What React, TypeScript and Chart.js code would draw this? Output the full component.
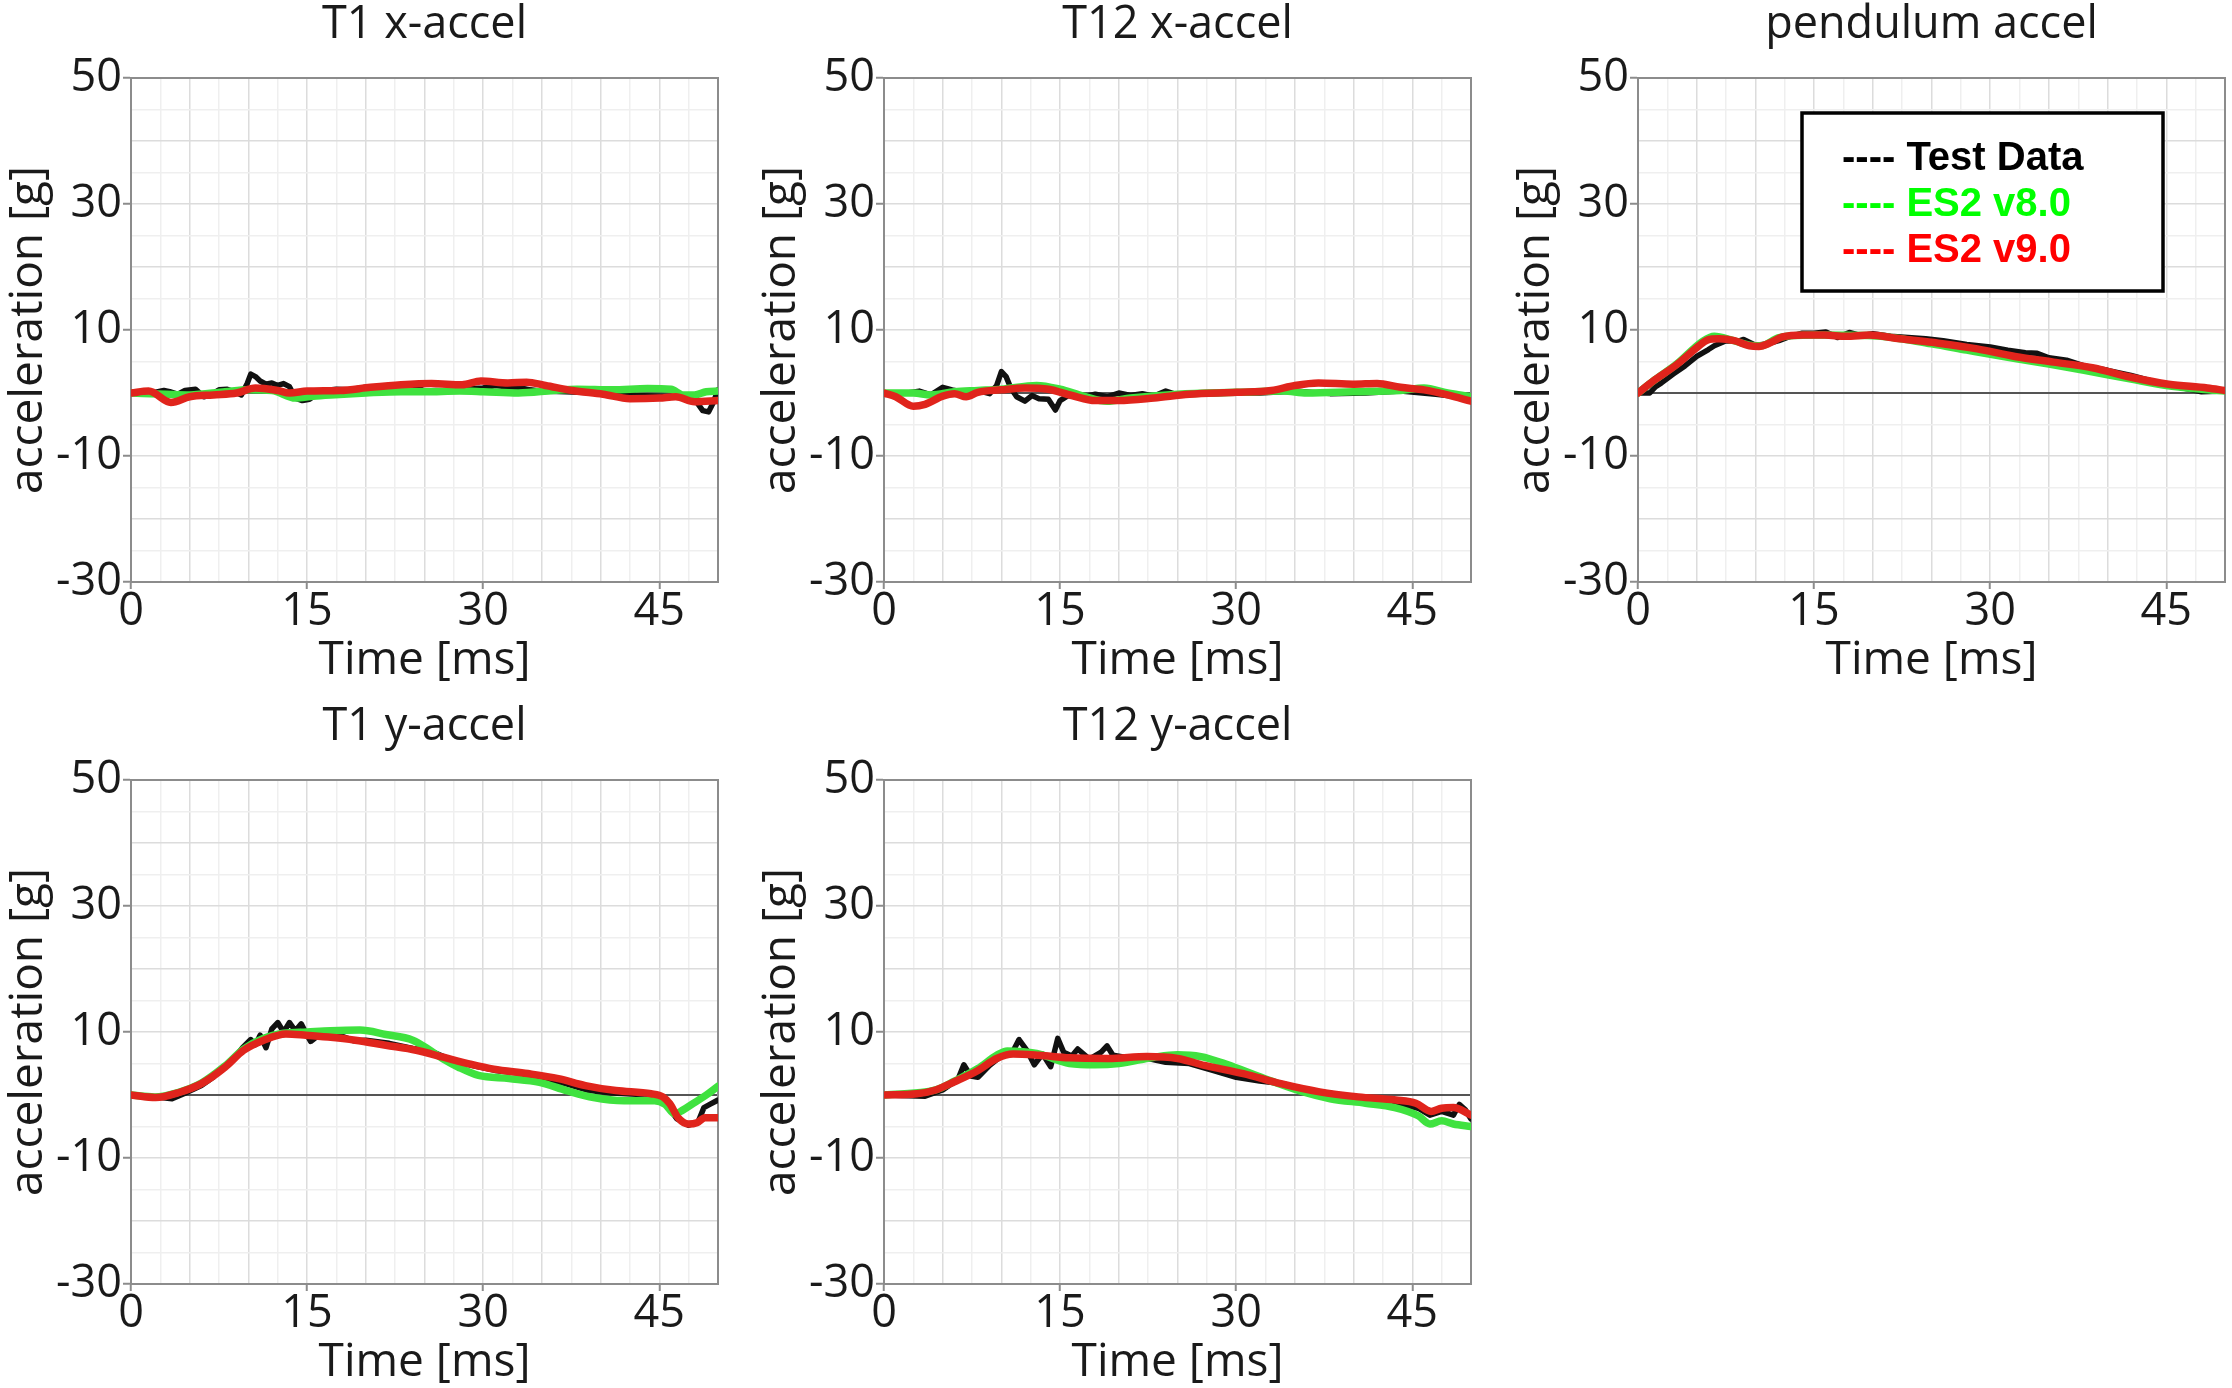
import React, { useEffect, useRef } from 'react';
import { Chart, registerables } from 'chart.js';

Chart.register(...registerables);

// ---------- tick labels / series names ----------
const X_TICK_LABELS = [0, 15, 30, 45];
const Y_TICK_LABELS = [50, 30, 10, -10, -30];
const SERIES_NAMES = ['Test Data', 'ES2 v8.0', 'ES2 v9.0'];
const PANEL_TITLES = ['T1 x-accel', 'T12 x-accel', 'pendulum accel', 'T1 y-accel', 'T12 y-accel'];

// ---------- T1 x-accel ----------
const T1X_V9_T = [0, 1.5, 3.4, 5, 7, 9, 10.6, 12.5, 13.5, 15, 17.8, 20.4, 23, 25.6, 28.2, 29.8, 32.1, 33.7, 35.3, 37.6, 40.2, 42.5, 45, 46.4, 48, 50];
const T1X_V9_G = [0, 0.3, -1.5, -0.6, -0.3, 0, 0.8, 0.4, 0, 0.3, 0.4, 0.9, 1.3, 1.5, 1.3, 1.9, 1.6, 1.7, 1.2, 0.4, -0.2, -0.9, -0.8, -0.6, -1.4, -1.2];
const T1X_V8_T = [0, 3, 5, 8, 10, 12, 14, 15.5, 17, 20, 23, 25, 28, 30, 33, 36, 38, 41, 44, 46, 47, 48, 49, 50];
const T1X_V8_G = [0, -0.2, -0.3, 0.2, 0.5, 0.4, -0.8, -0.5, -0.3, 0, 0.2, 0.2, 0.3, 0.2, 0, 0.4, 0.6, 0.5, 0.7, 0.6, -0.3, -0.3, 0.2, 0.3];
const T1X_TEST_T = [0, 1, 2, 2.8, 3.3, 4, 4.6, 5.5, 6.2, 6.8, 7.5, 8.2, 8.8, 9.4, 9.9, 10.2, 10.6, 11, 11.5, 12, 12.5, 13, 13.5, 14, 14.6, 15.2, 15.8, 16.5, 17.5, 18.5, 20, 22, 24, 25, 26, 27, 28, 30, 31, 32, 33, 34, 35, 37, 40, 43, 45, 46.5, 47.5, 48.2, 48.7, 49.2, 49.6, 50];
const T1X_TEST_G = [0, 0, 0.1, 0.4, 0.2, -0.2, 0.4, 0.6, -0.6, -0.3, 0.5, 0.6, 0.2, -0.3, 1.5, 3.0, 2.6, 1.9, 1.4, 1.6, 1.2, 1.5, 1.0, -0.8, -1.2, -1.0, -0.2, 0.4, 0.6, 0.5, 0.9, 1.1, 1.3, 0.3, 0.4, 0.3, 0.6, 0.8, 1.2, 1.0, 0.9, 0.5, 0.3, 0.2, 0, -0.4, -0.5, -0.6, -0.8, -1.5, -2.8, -3.0, -1.5, 0.5];

// ---------- T12 x-accel ----------
const T12X_V9_T = [0, 1, 2.5, 3.5, 5, 6, 7, 8, 10, 12, 14, 16, 18, 20, 23, 26, 30, 33, 35, 37, 40, 42, 44, 46, 48, 50];
const T12X_V9_G = [0, -0.6, -2.1, -1.8, -0.5, -0.1, -0.6, 0.1, 0.5, 0.8, 0.6, -0.4, -1.2, -1.2, -0.8, -0.2, 0.1, 0.4, 1.2, 1.6, 1.4, 1.5, 0.9, 0.5, -0.3, -1.3];
const T12X_V8_T = [0, 2.5, 4, 6, 8, 10, 13, 15, 17, 19, 21, 25, 30, 34, 36, 40, 44, 46, 48, 50];
const T12X_V8_G = [0, 0, -0.3, 0.2, 0.4, 0.6, 1.2, 0.6, -0.5, -1.3, -0.8, -0.2, 0.1, 0.3, 0, 0.2, 0.4, 0.8, 0, -0.6];
const T12X_TEST_T = [0, 2, 3, 4, 5, 5.8, 6.5, 7, 8, 9, 9.6, 10, 10.4, 10.8, 11.3, 12, 12.6, 13.2, 14, 14.6, 15, 15.6, 16.3, 17, 18, 19, 20, 21, 22, 23, 24, 25, 26, 28, 30, 32, 35, 36.5, 38, 41, 44, 47, 49, 50];
const T12X_TEST_G = [0, 0, 0.3, -0.3, 0.9, 0.5, 0.2, -0.6, 0.4, -0.1, 1.2, 3.4, 2.6, 0.8, -0.6, -1.3, -0.4, -0.9, -1.0, -2.7, -1.2, -0.5, -0.2, -0.6, -0.2, -0.6, 0, -0.4, -0.1, -0.5, 0.3, -0.3, 0, -0.1, 0, 0, 0.3, 0.1, -0.1, 0, 0.3, -0.2, -0.6, -1.0];

// ---------- pendulum accel ----------
const PEND_V9_T = [0, 1.3, 3.3, 5.2, 5.9, 6.9, 8.2, 9.5, 10.3, 11.3, 12.3, 14.1, 15.9, 17.7, 19.7, 22.3, 25.6, 28.9, 32.1, 35.4, 38.7, 42, 45.2, 48.5, 50];
const PEND_V9_G = [0, 1.9, 4.5, 7.5, 8.4, 8.6, 8.3, 7.5, 7.4, 8.0, 8.9, 9.2, 9.2, 9.0, 9.2, 8.6, 7.9, 7.0, 5.8, 4.9, 4.0, 2.5, 1.4, 0.8, 0.4];
const PEND_V8_T = [0, 1.3, 3.3, 5.5, 6.5, 8, 9.5, 10.5, 12, 15, 20, 25, 28, 32, 35, 38, 42, 45, 48, 50];
const PEND_V8_G = [0, 1.9, 4.6, 8.2, 9.0, 8.4, 7.6, 7.5, 8.8, 9.2, 9.1, 7.8, 6.8, 5.5, 4.6, 3.6, 2.2, 1.2, 0.6, 0.3];
const PEND_TEST_T = [0, 1, 1.5, 2, 3, 4, 5, 6, 6.5, 7.5, 8.5, 9, 10, 11, 12, 13, 14, 15, 16, 17, 18, 19, 20, 21.5, 23, 24.5, 26, 28, 30, 31.5, 33, 34, 35, 36.5, 38, 40, 42, 45, 47, 48, 50];
const PEND_TEST_G = [0, 0, 1.0, 1.6, 3.0, 4.3, 5.8, 6.9, 7.5, 8.3, 8.2, 8.5, 7.6, 7.8, 8.3, 9.0, 9.5, 9.5, 9.7, 8.8, 9.6, 9.1, 9.4, 9.0, 8.8, 8.6, 8.3, 7.7, 7.3, 6.8, 6.4, 6.3, 5.6, 5.2, 4.3, 3.6, 2.8, 1.3, 0.6, 0.2, 0.3];

// ---------- T1 y-accel ----------
const T1Y_V9_T = [0, 2.1, 4.1, 6, 8, 9.6, 11.3, 13.2, 14.9, 16.8, 19.1, 21.7, 24.3, 26.6, 28.9, 30.9, 33.8, 36.4, 38.7, 41.3, 44.3, 45.3, 45.9, 46.6, 47.5, 48.2, 48.9, 50];
const T1Y_V9_G = [0, -0.4, 0.4, 1.8, 4.4, 7.1, 8.7, 9.7, 9.5, 9.2, 8.7, 7.9, 7.1, 6.0, 4.9, 4.1, 3.4, 2.6, 1.5, 0.7, 0.2, -0.3, -1.4, -3.6, -4.6, -4.4, -3.6, -3.6];
const T1Y_V8_T = [0, 2, 4, 6, 8, 9.6, 11.3, 13, 15, 17, 19.5, 21.7, 24, 25.3, 26.6, 27.9, 29.6, 32.2, 34.8, 37.1, 39.4, 42, 44.6, 45.5, 46.3, 47, 48, 49, 50];
const T1Y_V8_G = [0, -0.3, 0.4, 1.9, 4.6, 7.3, 9.0, 9.8, 10.0, 10.2, 10.3, 9.6, 8.7, 7.3, 5.7, 4.4, 3.1, 2.6, 2.0, 0.7, -0.4, -0.9, -0.9, -1.5, -3.0, -2.4, -1.2, 0, 1.4];
const T1Y_TEST_T = [0, 2, 3.5, 4.5, 6, 7, 7.5, 8.5, 9.5, 10.2, 10.6, 11, 11.5, 12, 12.5, 13, 13.5, 14, 14.5, 15, 15.3, 16, 17, 18, 19, 20, 22, 24, 25.5, 27, 29, 31, 33, 35, 37, 39, 41, 43, 44.5, 45.5, 46.5, 47.5, 48.3, 48.8, 49.3, 50];
const T1Y_TEST_G = [0, -0.3, -0.6, 0.2, 1.5, 2.8, 3.8, 5.2, 7.5, 8.8, 8.0, 9.5, 7.5, 10.5, 11.5, 10.0, 11.5, 10.2, 11.3, 9.5, 8.5, 9.5, 9.6, 9.3, 8.6, 8.7, 8.2, 7.4, 7.0, 5.8, 4.7, 3.9, 3.5, 2.7, 1.8, 0.7, 0.3, 0.1, 0.2, -1.2, -3.8, -4.8, -4.3, -2.0, -1.5, -0.8];

// ---------- T12 y-accel ----------
const T12Y_V9_T = [0, 2.8, 4.4, 6, 8, 9.6, 11, 13.2, 15.8, 19.1, 22.4, 25, 27.3, 30.6, 33.8, 37.1, 40.4, 43.6, 45.3, 46.6, 47.5, 48.5, 50];
const T12Y_V9_G = [0, 0.2, 0.8, 2.1, 3.9, 5.8, 6.5, 6.3, 5.9, 5.8, 6.1, 5.8, 4.7, 3.4, 1.8, 0.5, -0.3, -0.8, -1.3, -2.6, -2.1, -2.0, -3.2];
const T12Y_V8_T = [0, 4.4, 6, 8, 9.6, 10.5, 13, 15.8, 18, 20, 23, 25, 27, 29, 31, 33, 35.5, 38, 41, 43.5, 45.5, 46.5, 47.5, 48.5, 50];
const T12Y_V8_G = [0, 0.8, 2.2, 4.2, 6.3, 7.0, 6.6, 5.0, 4.8, 5.0, 6.0, 6.4, 6.1, 5.0, 3.6, 2.2, 0.6, -0.6, -1.3, -2.0, -3.3, -4.6, -4.1, -4.6, -5.0];
const T12Y_TEST_T = [0, 3.5, 5, 6.3, 6.8, 7.4, 8, 9, 10, 11, 11.5, 12.2, 12.8, 13.5, 14.2, 14.8, 15.3, 16, 16.5, 17.5, 18.5, 19, 19.5, 20.5, 22, 24, 26, 28, 30, 32, 34, 36, 38, 40, 42, 44, 45.5, 46.5, 47.5, 48.5, 49, 49.5, 50];
const T12Y_TEST_G = [0, -0.2, 0.8, 2.5, 4.8, 3.0, 2.8, 4.7, 6.2, 7.0, 8.8, 7.0, 4.8, 6.5, 4.5, 9.0, 6.8, 6.2, 7.3, 5.7, 6.8, 7.8, 6.3, 6.0, 6.0, 5.2, 5.0, 3.9, 2.8, 2.2, 1.8, 0.7, 0.3, -0.5, -1.0, -1.4, -2.1, -3.2, -2.6, -3.2, -1.5, -2.3, -3.8];

// ---------- layout (not data) ----------
const PLOT_W = 587;
const PLOT_H = 504;
const Y_AXIS_W = 131;
const TOP_PAD = 78;
const X_AXIS_H = 108;
const RIGHT_PAD = 10;
const FONT = "'Open Sans', 'Noto Sans', sans-serif";

type Series = [number[], number[]];
interface PanelDef {
  title: string;
  left: number;
  top: number;
  test: Series;
  v8: Series;
  v9: Series;
  legend: boolean;
}

const PANELS: PanelDef[] = [
  { title: PANEL_TITLES[0], left: 131, top: 78, test: [T1X_TEST_T, T1X_TEST_G], v8: [T1X_V8_T, T1X_V8_G], v9: [T1X_V9_T, T1X_V9_G], legend: false },
  { title: PANEL_TITLES[1], left: 884, top: 78, test: [T12X_TEST_T, T12X_TEST_G], v8: [T12X_V8_T, T12X_V8_G], v9: [T12X_V9_T, T12X_V9_G], legend: false },
  { title: PANEL_TITLES[2], left: 1638, top: 78, test: [PEND_TEST_T, PEND_TEST_G], v8: [PEND_V8_T, PEND_V8_G], v9: [PEND_V9_T, PEND_V9_G], legend: true },
  { title: PANEL_TITLES[3], left: 131, top: 780, test: [T1Y_TEST_T, T1Y_TEST_G], v8: [T1Y_V8_T, T1Y_V8_G], v9: [T1Y_V9_T, T1Y_V9_G], legend: false },
  { title: PANEL_TITLES[4], left: 884, top: 780, test: [T12Y_TEST_T, T12Y_TEST_G], v8: [T12Y_V8_T, T12Y_V8_G], v9: [T12Y_V9_T, T12Y_V9_G], legend: false },
];

const toPts = (s: Series) => s[0].map((x, i) => ({ x, y: s[1][i] }));

const RED = '#e0241c';
const GREEN = '#3fe23f';
const BLACK = '#111111';
const LEGEND_COLORS = ['#000000', '#00ff00', '#ff0000'];

function Panel({ def }: { def: PanelDef }) {
  const ref = useRef<HTMLCanvasElement | null>(null);
  const cw = Y_AXIS_W + PLOT_W + RIGHT_PAD;
  const ch = TOP_PAD + PLOT_H + X_AXIS_H;

  useEffect(() => {
    if (!ref.current) return;
    const deco = {
      id: 'deco',
      beforeDatasetsDraw(chart: any) {
        const { ctx, chartArea: a } = chart;
        ctx.save();
        ctx.strokeStyle = '#8c8c8c';
        ctx.lineWidth = 2;
        ctx.strokeRect(a.left, a.top, a.right - a.left, a.bottom - a.top);
        ctx.restore();
      },
      afterDraw(chart: any) {
        const { ctx, chartArea: a } = chart;
        ctx.save();
        ctx.fillStyle = '#1a1a1a';
        ctx.font = `45px ${FONT}`;
        ctx.textAlign = 'center';
        ctx.textBaseline = 'alphabetic';
        ctx.fillText(def.title, (a.left + a.right) / 2, a.top - 40);
        if (def.legend) {
          const bx = a.left + 164;
          const by = a.top + 35;
          ctx.fillStyle = '#ffffff';
          ctx.fillRect(bx, by, 361, 178);
          ctx.strokeStyle = '#000000';
          ctx.lineWidth = 3.5;
          ctx.strokeRect(bx, by, 361, 178);
          ctx.font = `bold 40px 'Liberation Sans', Arial, sans-serif`;
          ctx.textAlign = 'left';
          const baselines = [92, 138, 184];
          SERIES_NAMES.forEach((name, i) => {
            ctx.fillStyle = LEGEND_COLORS[i];
            ctx.fillText('---- ' + name, a.left + 204, a.top + baselines[i]);
          });
        }
        ctx.restore();
      },
    };

    const chart = new Chart(ref.current, {
      type: 'line',
      data: {
        datasets: [
          { label: SERIES_NAMES[2], data: toPts(def.v9), borderColor: RED, borderWidth: 7.5, pointRadius: 0, cubicInterpolationMode: 'monotone', borderJoinStyle: 'round', borderCapStyle: 'round' },
          { label: SERIES_NAMES[1], data: toPts(def.v8), borderColor: GREEN, borderWidth: 7.5, pointRadius: 0, cubicInterpolationMode: 'monotone', borderJoinStyle: 'round', borderCapStyle: 'round' },
          { label: SERIES_NAMES[0], data: toPts(def.test), borderColor: BLACK, borderWidth: 5.5, pointRadius: 0, tension: 0, borderJoinStyle: 'round', borderCapStyle: 'round' },
        ],
      },
      options: {
        animation: false,
        responsive: false,
        devicePixelRatio: 1,
        layout: { padding: { left: 0, top: TOP_PAD, right: RIGHT_PAD, bottom: 0 } },
        plugins: { legend: { display: false }, tooltip: { enabled: false }, title: { display: false } },
        scales: {
          x: {
            type: 'linear',
            min: 0,
            max: 50,
            afterFit: (s: any) => { s.height = X_AXIS_H; },
            afterBuildTicks: (s: any) => {
              const t = [];
              for (let v = 0; v <= 50; v += 2.5) t.push({ value: v });
              s.ticks = t;
            },
            ticks: {
              autoSkip: false,
              maxRotation: 0,
              padding: 1,
              color: '#1a1a1a',
              font: { family: FONT, size: 45, lineHeight: 1 },
              callback: (v: any) => (X_TICK_LABELS.includes(Number(v)) ? String(v) : ''),
            },
            grid: {
              color: (c: any) => (c.tick && c.tick.value % 5 === 0 ? '#dcdcdc' : '#efefef'),
              lineWidth: 1.5,
              tickLength: 7,
              tickWidth: 2,
              tickColor: (c: any) => (c.tick && X_TICK_LABELS.includes(c.tick.value) ? '#8c8c8c' : 'rgba(0,0,0,0)'),
            },
            border: { display: true, color: '#8c8c8c', width: 2 },
            title: { display: true, text: 'Time [ms]', color: '#1a1a1a', font: { family: FONT, size: 46, lineHeight: 1.2 }, padding: { top: 0, bottom: 2 } },
          },
          y: {
            type: 'linear',
            min: -30,
            max: 50,
            afterFit: (s: any) => { s.width = Y_AXIS_W; },
            afterBuildTicks: (s: any) => {
              const t = [];
              for (let v = -30; v <= 50; v += 5) t.push({ value: v });
              s.ticks = t;
            },
            ticks: {
              autoSkip: false,
              padding: 1,
              color: '#1a1a1a',
              font: { family: FONT, size: 45, lineHeight: 1 },
              callback: (v: any) => (Y_TICK_LABELS.includes(Number(v)) ? String(v) : ''),
            },
            grid: {
              color: (c: any) => {
                const v = c.tick ? c.tick.value : 1;
                if (v === 0) return '#555555';
                return v % 10 === 0 ? '#dcdcdc' : '#efefef';
              },
              lineWidth: (c: any) => (c.tick && c.tick.value === 0 ? 2 : 1.5),
              tickLength: 8,
              tickWidth: 2,
              tickColor: (c: any) => (c.tick && Y_TICK_LABELS.includes(c.tick.value) ? '#8c8c8c' : 'rgba(0,0,0,0)'),
            },
            border: { display: true, color: '#8c8c8c', width: 2 },
            title: { display: true, text: 'acceleration [g]', color: '#1a1a1a', font: { family: FONT, size: 46, lineHeight: 1.2 }, padding: { top: 1, bottom: 0 } },
          },
        },
      } as any,
      plugins: [deco],
    });
    return () => chart.destroy();
  }, [def]);

  return (
    <canvas
      ref={ref}
      width={cw}
      height={ch}
      style={{ position: 'absolute', left: def.left - Y_AXIS_W, top: def.top - TOP_PAD, width: cw, height: ch }}
    />
  );
}

export default function App() {
  return (
    <div style={{ position: 'absolute', left: 0, top: 0, width: 2232, height: 1388, background: '#ffffff', overflow: 'hidden' }}>
      {PANELS.map((p) => (
        <Panel key={p.title} def={p} />
      ))}
    </div>
  );
}
